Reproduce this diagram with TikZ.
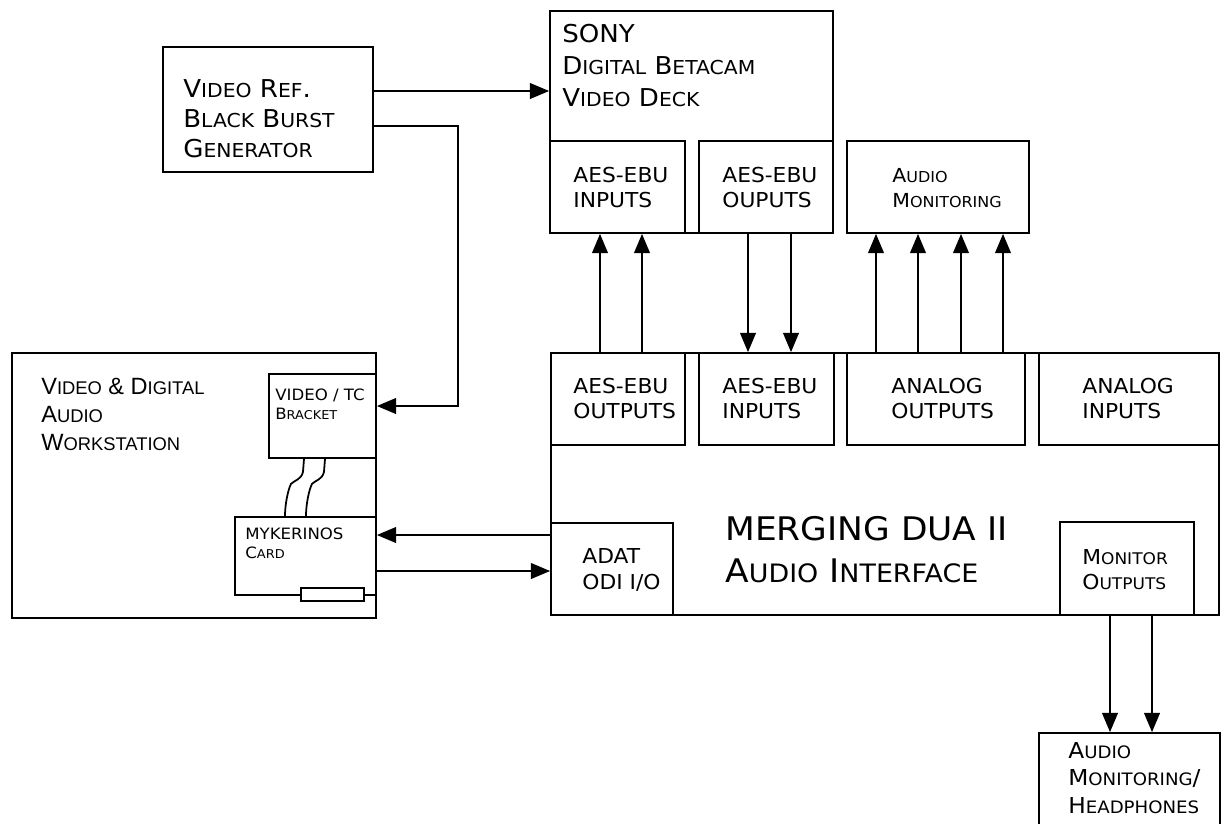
\documentclass[tikz,border=0pt]{standalone}
\usepackage{fontspec}
\usepackage{graphicx}
\setmainfont{DejaVu Sans}[FakeStretch=1.06]
\newfontfamily\arialfont{Liberation Sans}
\usetikzlibrary{arrows.meta, fit}

% small capitals made by hand
\newcommand{\sm}[1]{\scalebox{0.78}{#1}}

\tikzset{
  box/.style={draw, line width=1pt, inner sep=0pt, fit={#1}},
  arr/.style={line width=1pt, -{Triangle[length=11pt, width=9pt]}},
  wire/.style={line width=1pt},
  txt/.style={anchor=base west, align=left, inner sep=0pt},
}

\begin{document}
\begin{tikzpicture}[x=0.02cm, y=-0.02cm]
        \useasboundingbox (0,0) rectangle (1221,823);
        % Boxes
        \node[box={(163,47) (373,172)}] (vref) {};
        \node[box={(550,11) (833,233)}] (sony) {};
        \node[box={(550,141) (685,233)}] (sAesIn) {};
        \node[box={(699,141) (833,233)}] (sAesOut) {};
        \node[box={(847,141) (1029,233)}] (monTop) {};
        \node[box={(12,353) (376,618)}] (daw) {};
        \node[box={(269,374) (376,458)}] (bracket) {};
        \node[box={(235,517) (376,595)}] (card) {};
        \node[box={(301,588) (364,601)}, fill=white] (slot) {};
        \node[box={(551,353) (1219,615)}] (dua) {};
        \node[box={(551,353) (685,445)}] (dAesOut) {};
        \node[box={(699,353) (834,445)}] (dAesIn) {};
        \node[box={(847,353) (1025,445)}] (dAnaOut) {};
        \node[box={(1039,353) (1219,445)}] (dAnaIn) {};
        \node[box={(551,523) (673,615)}] (adat) {};
        \node[box={(1060,522) (1194,615)}] (monOut) {};
        \node[box={(1039,733) (1220,840)}] (phones) {};
        % Labels (anchored on the last line)
        \node[txt, font=\fontsize{14}{17}\selectfont] (vrefT) at (183,157) {V\sm{IDEO} R\sm{EF}.\\B\sm{LACK} B\sm{URST}\\G\sm{ENERATOR}};
        \node[txt, font=\fontsize{14}{18.2}\selectfont] (sonyT) at (562,106) {SONY\\D\sm{IGITAL} B\sm{ETACAM}\\V\sm{IDEO} D\sm{ECK}};
        \node[txt, font=\fontsize{11.7}{14.2}\selectfont] (sAesInT) at (573,207) {AES-EBU\\INPUTS};
        \node[txt, font=\fontsize{11.7}{14.2}\selectfont] (sAesOutT) at (722,207) {AES-EBU\\OUPUTS};
        \node[txt, font=\fontsize{11}{14.2}\selectfont] (monTopT) at (892,207) {A\sm{UDIO}\\M\sm{ONITORING}};
        \node[txt, font=\arialfont\fontsize{13.4}{15.9}\selectfont] (dawT) at (41,450) {V\sm{IDEO} \& D\sm{IGITAL}\\A\sm{UDIO}\\W\sm{ORKSTATION}};
        \node[txt, font=\fontsize{8.9}{10.5}\selectfont] (bracketT) at (275,419) {VIDEO / TC\\B\sm{RACKET}};
        \node[txt, font=\fontsize{8.9}{10.8}\selectfont] (cardT) at (245,558) {MYKERINOS\\C\sm{ARD}};
        \node[txt, font=\fontsize{11.7}{14.2}\selectfont] (dAesOutT) at (573,418) {AES-EBU\\OUTPUTS};
        \node[txt, font=\fontsize{11.7}{14.2}\selectfont] (dAesInT) at (722,418) {AES-EBU\\INPUTS};
        \node[txt, font=\fontsize{11.7}{14.2}\selectfont] (dAnaOutT) at (891,418) {ANALOG\\OUTPUTS};
        \node[txt, font=\fontsize{11.7}{14.2}\selectfont] (dAnaInT) at (1082,418) {ANALOG\\INPUTS};
        \node[txt, font=\fontsize{18.5}{23.9}\selectfont] (duaT) at (725,582) {MERGING DUA II\\A\sm{UDIO} I\sm{NTERFACE}};
        \node[txt, font=\fontsize{11.7}{14.8}\selectfont] (adatT) at (582,589) {ADAT\\ODI I/O};
        \node[txt, font=\fontsize{11.7}{14.2}\selectfont] (monOutT) at (1082,589) {M\sm{ONITOR}\\O\sm{UTPUTS}};
        \node[txt, font=\fontsize{12.5}{15.4}\selectfont] (phonesT) at (1068,813) {A\sm{UDIO}\\M\sm{ONITORING}/\\H\sm{EADPHONES}};
        % Connections
        \draw[arr] (vref.east |- 0,91) -- (sony.west |- 0,91);
        \draw[arr] (vref.east |- 0,126) -| (458,406) -- (bracket.east |- 0,406);
        \foreach \x/\y in {304/285, 325/306}
            \draw[wire] (bracket.south -| \x,0) -- ++(-1,13) .. controls +(-2,8) and +(4,-4) .. ++(-12,12) .. controls +(-3,6) and +(0,-12) .. (card.north -| \y,0);
        \draw[arr] (adat.west |- 0,535) -- (card.east |- 0,535);
        \draw[arr] (card.east |- 0,571) -- (adat.west |- 0,571);
        \foreach \x in {600,642}
            \draw[arr] (dAesOut.north -| \x,0) -- (sAesIn.south -| \x,0);
        \foreach \x in {748,791}
            \draw[arr] (sAesOut.south -| \x,0) -- (dAesIn.north -| \x,0);
        \foreach \x in {876,918,961,1003}
            \draw[arr] (dAnaOut.north -| \x,0) -- (monTop.south -| \x,0);
        \foreach \x in {1110,1152}
            \draw[arr] (monOut.south -| \x,0) -- (phones.north -| \x,0);
\end{tikzpicture}
\end{document}
